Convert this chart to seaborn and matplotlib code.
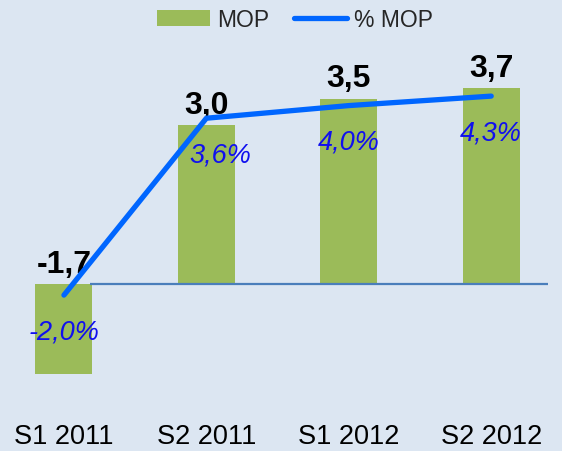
import numpy as np
import pandas as pd
import matplotlib.pyplot as plt
import seaborn as sns
from matplotlib.patches import Patch
from matplotlib.lines import Line2D

# Data
periods = ["S1 2011", "S2 2011", "S1 2012", "S2 2012"]
mop = [-1.7, 3.0, 3.5, 3.7]
mop_pct = [-2.0, 3.6, 4.0, 4.3]
mop_labels = ["-1,7", "3,0", "3,5", "3,7"]
pct_labels = ["-2,0%", "3,6%", "4,0%", "4,3%"]

bg = "#dce6f2"
bar_color = "#9bbb59"
line_color = "#0066ff"
pct_color = "#1010ee"

sns.set_theme(style="white")
plt.rcParams["font.family"] = ["Liberation Sans", "DejaVu Sans"]

df = pd.DataFrame({"period": periods, "mop": mop, "pct": mop_pct})

fig = plt.figure(figsize=(5.62, 4.52), dpi=100, facecolor=bg)
ax = fig.add_axes([0, 0.126, 1, 0.785])
ax.set_facecolor(bg)

sns.barplot(data=df, x="period", y="mop", color=bar_color, width=0.4,
            saturation=1, edgecolor="none", linewidth=0, ax=ax, zorder=2)
ax.hlines(0, 0.18, 3.4, color="#4a7ebb", linewidth=1.6, zorder=3)

ax2 = ax.twinx()
sns.lineplot(x=np.arange(len(periods)), y=df["pct"], color=line_color,
             linewidth=3.8, ax=ax2, solid_capstyle="round",
             solid_joinstyle="round", zorder=4)

ax.set_xlim(-0.449, 3.497)
ax.set_ylim(-2.075, 4.623)
ax2.set_ylim(-5.133, 6.101)

# value labels above bars
for i, v in enumerate(mop):
    ax.annotate(mop_labels[i], (i, max(v, 0)), xytext=(0, 9), textcoords="offset points",
                ha="center", va="baseline", fontsize=23, fontweight="bold", color="black")

# percentage labels under the line (second one sits a bit to the right)
nudge = [0, 10, 0, 0]
for i, p in enumerate(mop_pct):
    ax2.annotate(pct_labels[i], (i, p), xytext=(nudge[i], -26), textcoords="offset points",
                 ha="center", va="center", fontsize=19.5, style="italic", color=pct_color,
                 zorder=3)

ax.set_xlabel("")
ax.set_ylabel("")
ax2.set_ylabel("")
ax.set_yticks([])
ax2.set_yticks([])
ax.tick_params(axis="x", length=0, pad=21, labelsize=19.5, colors="black")
for a in (ax, ax2):
    for s in a.spines.values():
        s.set_visible(False)

handles = [Patch(facecolor=bar_color, edgecolor="none", label="MOP"),
           Line2D([0], [0], color=line_color, linewidth=3.8, solid_capstyle="round", label="% MOP")]
fig.legend(handles=handles, loc="center", bbox_to_anchor=(0.525, 0.955), ncol=2,
           frameon=False, fontsize=16.5, handlelength=2.3, handleheight=0.66,
           handletextpad=0.3, columnspacing=1.1)

fig.savefig("out.png", dpi=100, facecolor=bg)
